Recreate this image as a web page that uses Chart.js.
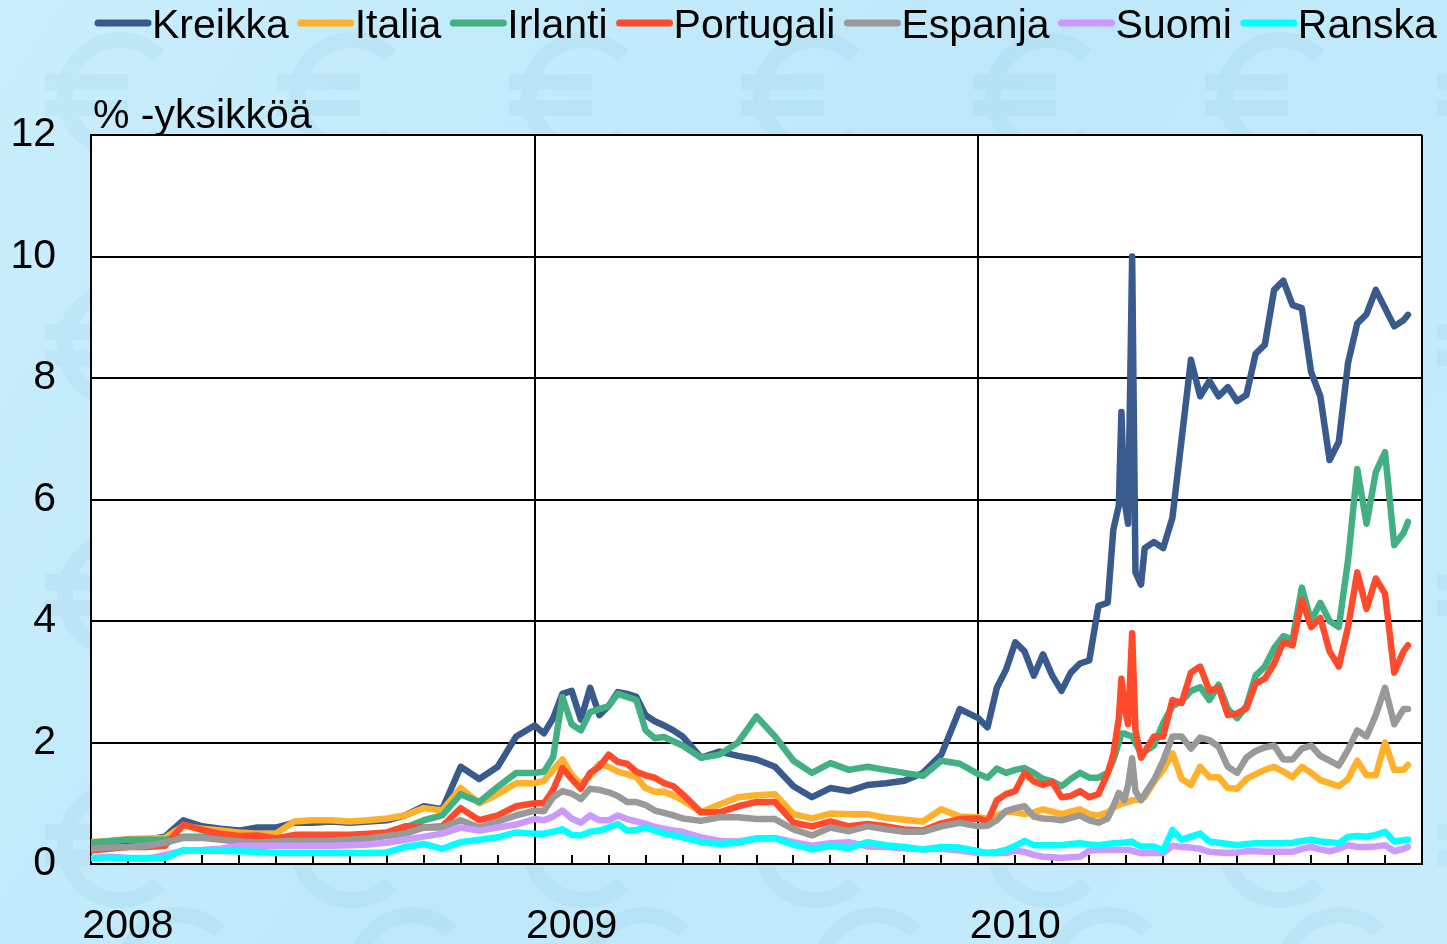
<!DOCTYPE html>
<html>
<head>
<meta charset="utf-8">
<title>Valtionlainojen korkoerot Saksaan</title>
<script src="https://cdn.jsdelivr.net/npm/chart.js@4"></script>
<style>
    html, body { margin: 0; padding: 0; background: #c4ebfb; }
    #wrap { width: 1447px; height: 944px; }
</style>
</head>
<body>
<div id="wrap"><canvas id="spreadChart" width="1447" height="944"></canvas></div>
<script>
// x = months since 1.1.2008
const months = [
    0, 0.5, 1, 1.5, 2, 2.5, 3, 3.5, 4, 4.5, 5, 5.5, 6, 6.5, 7, 7.5, 8, 8.5, 9, 9.5, 10, 10.5, 11, 11.5,
    12, 12.25, 12.5, 12.75, 13, 13.25, 13.5, 13.75, 14, 14.25, 14.5, 14.75, 15, 15.25, 15.5, 15.75,
    16, 16.5, 17, 17.5, 18, 18.5, 19, 19.5, 20, 20.5, 21, 21.5, 22, 22.5, 23, 23.5,
    24, 24.25, 24.5, 24.75, 25, 25.25, 25.5, 25.75, 26, 26.25, 26.5, 26.75, 27, 27.25, 27.5,
    27.65, 27.8, 27.87, 27.95, 28.05, 28.16, 28.25, 28.4,
    28.5, 28.75, 29, 29.25, 29.5, 29.75, 30, 30.25, 30.5, 30.75, 31, 31.25, 31.5, 31.75, 32, 32.25,
    32.5, 32.75, 33, 33.25, 33.5, 33.75, 34, 34.25, 34.5, 34.75, 35, 35.25, 35.5, 35.62
];

const kreikka = [
    0.3, 0.35, 0.38, 0.4, 0.45, 0.72, 0.62, 0.58, 0.55, 0.6, 0.6, 0.68, 0.68, 0.7, 0.68, 0.7, 0.72, 0.8, 0.95, 0.9, 1.6, 1.4, 1.6, 2.1,
    2.28, 2.15, 2.4, 2.8, 2.85, 2.38, 2.9, 2.45, 2.6, 2.83, 2.8, 2.75, 2.45, 2.35, 2.28, 2.2,
    2.1, 1.75, 1.85, 1.78, 1.72, 1.6, 1.28, 1.1, 1.25, 1.2, 1.3, 1.33, 1.37, 1.5, 1.8, 2.55,
    2.4, 2.25, 2.9, 3.2, 3.65, 3.5, 3.1, 3.45, 3.1, 2.85, 3.15, 3.3, 3.35, 4.25, 4.3,
    5.5, 5.9, 7.44, 6.0, 5.6, 10.0, 4.8, 4.6,
    5.2, 5.3, 5.2, 5.7, 7.0, 8.3, 7.7, 7.95, 7.7, 7.85, 7.62, 7.72, 8.4, 8.55, 9.45, 9.6,
    9.2, 9.15, 8.1, 7.7, 6.65, 6.95, 8.25, 8.9, 9.05, 9.45, 9.15, 8.85, 8.95, 9.04
];
const italia = [
    0.36, 0.38, 0.41, 0.42, 0.43, 0.63, 0.58, 0.55, 0.52, 0.5, 0.5, 0.7, 0.72, 0.72, 0.7, 0.72, 0.75, 0.8, 0.92, 0.88, 1.25, 1.0, 1.15, 1.33,
    1.33, 1.37, 1.55, 1.72, 1.47, 1.32, 1.45, 1.65, 1.6, 1.52, 1.48, 1.43, 1.25, 1.19, 1.19, 1.13,
    1.05, 0.85, 0.98, 1.1, 1.13, 1.15, 0.82, 0.75, 0.83, 0.82, 0.82, 0.76, 0.73, 0.7, 0.9, 0.78,
    0.77, 0.74, 0.8, 0.86, 0.85, 0.82, 0.85, 0.9, 0.86, 0.82, 0.86, 0.9, 0.82, 0.8, 0.85,
    0.93, 0.97, 1.0, 1.0, 1.02, 1.05, 1.05, 1.07,
    1.1, 1.35, 1.55, 1.82, 1.4, 1.3, 1.6, 1.43, 1.43, 1.25, 1.24, 1.4, 1.48, 1.55, 1.6, 1.52,
    1.43, 1.6, 1.5, 1.38, 1.33, 1.28, 1.4, 1.7, 1.46, 1.46, 2.0, 1.55, 1.55, 1.63
];
const irlanti = [
    0.35, 0.38, 0.4, 0.4, 0.4, 0.45, 0.45, 0.42, 0.4, 0.38, 0.4, 0.42, 0.42, 0.45, 0.45, 0.48, 0.5, 0.6, 0.72, 0.8, 1.15, 1.02, 1.27, 1.5,
    1.5, 1.52, 1.76, 2.75, 2.3, 2.2, 2.5, 2.55, 2.6, 2.8, 2.75, 2.7, 2.2, 2.07, 2.09, 2.02,
    1.95, 1.75, 1.8, 2.0, 2.43, 2.1, 1.7, 1.5, 1.66, 1.55, 1.6, 1.55, 1.5, 1.45, 1.7, 1.65,
    1.48, 1.42, 1.57, 1.5, 1.55, 1.58, 1.5, 1.4, 1.36, 1.28, 1.4, 1.5, 1.42, 1.42, 1.5,
    1.71, 2.0, 2.15, 2.15, 2.12, 2.1, 2.0, 1.82,
    1.85, 1.95, 2.32, 2.6, 2.68, 2.85, 2.91, 2.7, 2.95, 2.55, 2.4, 2.6, 3.1, 3.25, 3.55, 3.75,
    3.7, 4.55, 4.0, 4.3, 4.0, 3.9, 5.0, 6.5, 5.6, 6.45, 6.78, 5.25, 5.45, 5.63
];
const portugali = [
    0.22, 0.25, 0.28, 0.28, 0.3, 0.65, 0.56, 0.5, 0.46, 0.47, 0.42, 0.48, 0.48, 0.48, 0.48, 0.5, 0.52, 0.62, 0.6, 0.62, 0.92, 0.72, 0.8, 0.95,
    1.0, 1.0, 1.22, 1.58, 1.4, 1.24, 1.5, 1.6, 1.8, 1.68, 1.65, 1.52, 1.46, 1.42, 1.33, 1.28,
    1.15, 0.85, 0.85, 0.95, 1.02, 1.02, 0.68, 0.62, 0.7, 0.62, 0.66, 0.62, 0.57, 0.55, 0.67, 0.74,
    0.75, 0.7, 1.05, 1.15, 1.2, 1.5, 1.36, 1.3, 1.35, 1.1, 1.12, 1.2, 1.1, 1.15, 1.5,
    1.8, 2.4, 3.05, 2.6, 2.3, 3.8, 2.2, 1.75,
    1.85, 2.1, 2.1, 2.7, 2.65, 3.15, 3.25, 2.85, 2.9, 2.45, 2.48, 2.56, 2.97, 3.05, 3.3, 3.65,
    3.6, 4.35, 3.9, 4.05, 3.5, 3.25, 3.9, 4.8, 4.2, 4.7, 4.45, 3.15, 3.5, 3.6
];
const espanja = [
    0.25, 0.27, 0.28, 0.3, 0.35, 0.43, 0.43, 0.4, 0.37, 0.35, 0.37, 0.38, 0.38, 0.38, 0.4, 0.42, 0.46, 0.5, 0.6, 0.6, 0.72, 0.6, 0.7, 0.8,
    0.88, 0.87, 1.1, 1.2, 1.16, 1.07, 1.24, 1.22, 1.18, 1.12, 1.02, 1.02, 0.97, 0.88, 0.84, 0.8,
    0.75, 0.71, 0.77, 0.77, 0.74, 0.74, 0.57, 0.47, 0.6, 0.54, 0.62, 0.57, 0.53, 0.53, 0.62, 0.68,
    0.62, 0.63, 0.72, 0.87, 0.92, 0.95, 0.78, 0.75, 0.74, 0.72, 0.76, 0.8, 0.72, 0.68, 0.75,
    0.95, 1.17, 1.12, 1.05, 1.3, 1.74, 1.2, 1.05,
    1.15, 1.38, 1.7, 2.1, 2.1, 1.9, 2.08, 2.04, 1.93, 1.6, 1.5, 1.75, 1.86, 1.92, 1.95, 1.72,
    1.72, 1.9, 1.95, 1.78, 1.7, 1.62, 1.88, 2.2, 2.1, 2.45, 2.9, 2.3, 2.55, 2.55
];
const suomi = [
    0.1, 0.12, 0.1, 0.08, 0.15, 0.22, 0.23, 0.25, 0.3, 0.3, 0.3, 0.3, 0.3, 0.3, 0.31, 0.32, 0.35, 0.4, 0.45, 0.5, 0.6, 0.55, 0.6, 0.65,
    0.74, 0.72, 0.78, 0.88, 0.75, 0.68, 0.8, 0.72, 0.72, 0.8, 0.74, 0.7, 0.66, 0.61, 0.58, 0.55,
    0.53, 0.44, 0.38, 0.37, 0.42, 0.43, 0.36, 0.3, 0.34, 0.36, 0.29, 0.28, 0.26, 0.24, 0.25, 0.22,
    0.18, 0.18, 0.18, 0.18, 0.22, 0.2, 0.15, 0.12, 0.11, 0.1, 0.11, 0.12, 0.22, 0.23, 0.23,
    0.23, 0.23, 0.23, 0.23, 0.23, 0.22, 0.2, 0.18,
    0.18, 0.18, 0.18, 0.3, 0.28, 0.27, 0.25, 0.2, 0.19, 0.18, 0.19, 0.21, 0.21, 0.2, 0.2, 0.2,
    0.2, 0.25, 0.28, 0.24, 0.21, 0.25, 0.31, 0.28, 0.28, 0.29, 0.31, 0.21, 0.25, 0.28
];
const ranska = [
    0.1, 0.1, 0.1, 0.1, 0.1, 0.23, 0.22, 0.22, 0.21, 0.2, 0.18, 0.18, 0.18, 0.18, 0.18, 0.18, 0.19, 0.28, 0.33, 0.25, 0.36, 0.4, 0.44, 0.52,
    0.5, 0.5, 0.53, 0.57, 0.48, 0.47, 0.53, 0.55, 0.6, 0.66, 0.55, 0.56, 0.6, 0.55, 0.5, 0.47,
    0.44, 0.36, 0.33, 0.35, 0.42, 0.42, 0.32, 0.24, 0.3, 0.26, 0.36, 0.31, 0.28, 0.24, 0.28, 0.27,
    0.21, 0.18, 0.2, 0.23, 0.3, 0.38, 0.31, 0.31, 0.31, 0.31, 0.33, 0.34, 0.32, 0.31, 0.33,
    0.34, 0.34, 0.35, 0.35, 0.36, 0.37, 0.33, 0.29,
    0.29, 0.29, 0.22, 0.56, 0.4, 0.45, 0.5, 0.37, 0.35, 0.33, 0.31, 0.33, 0.34, 0.34, 0.34, 0.34,
    0.35, 0.38, 0.4, 0.37, 0.36, 0.34, 0.45, 0.46, 0.45, 0.48, 0.53, 0.37, 0.39, 0.4
];

const seriesNames = ['Kreikka', 'Italia', 'Irlanti', 'Portugali', 'Espanja', 'Suomi', 'Ranska'];
const seriesValues = [kreikka, italia, irlanti, portugali, espanja, suomi, ranska];
const seriesColors = ['#385a8c', '#ffb12b', '#43b083', '#ff4b2b', '#999999', '#cc99ff', '#00ffff'];

// year labels sit one month into each year, gridlines at year changes
const yearLabels = ['2008', '2009', '2010'];
const yearLabelMonths = [1, 13, 25];
const yearLineMonths = [12, 24, 36];
const unitLabel = '% -yksikköä';

const fontFamily = '"Liberation Sans", Arial, Helvetica, sans-serif';
Chart.defaults.font.family = fontFamily;
Chart.defaults.font.size = 41;
Chart.defaults.color = '#000';

// light blue backdrop with faint euro signs, white plot area
const backdrop = {
    id: 'backdrop',
    beforeDraw(chart) {
        const { ctx, width, height, chartArea: a } = chart;
        ctx.save();
        const g = ctx.createLinearGradient(0, 0, width, height);
        g.addColorStop(0, '#c9eefc');
        g.addColorStop(0.5, '#bee8f9');
        g.addColorStop(1, '#c6ecfb');
        ctx.fillStyle = g;
        ctx.fillRect(0, 0, width, height);

        ctx.strokeStyle = 'rgba(120, 190, 225, 0.12)';
        ctx.lineWidth = 16;
        for (let row = 0; row < 8; row++) {
            for (let col = 0; col < 7; col++) {
                const cx = 120 + col * 232 + (row % 2) * 60;
                const cy = 95 + row * 125;
                ctx.beginPath();
                ctx.arc(cx, cy, 55, -Math.PI / 4, Math.PI / 4, true);
                ctx.moveTo(cx - 75, cy - 13);
                ctx.lineTo(cx + 8, cy - 13);
                ctx.moveTo(cx - 75, cy + 13);
                ctx.lineTo(cx + 8, cy + 13);
                ctx.stroke();
            }
        }

        ctx.fillStyle = '#ffffff';
        ctx.fillRect(a.left, a.top, a.right - a.left, a.bottom - a.top);
        ctx.restore();
    }
};

// legend row at the top and the unit label above the plot
const topTexts = {
    id: 'topTexts',
    afterDraw(chart) {
        const ctx = chart.ctx;
        ctx.save();
        ctx.font = '41px ' + fontFamily;
        ctx.textBaseline = 'alphabetic';
        ctx.textAlign = 'left';
        let x = 95;
        chart.data.datasets.forEach(ds => {
            ctx.strokeStyle = ds.borderColor;
            ctx.lineWidth = 7;
            ctx.lineCap = 'round';
            ctx.beginPath();
            ctx.moveTo(x + 3, 23);
            ctx.lineTo(x + 53, 23);
            ctx.stroke();
            ctx.fillStyle = '#000';
            ctx.fillText(ds.label, x + 57, 38);
            x += 57 + ctx.measureText(ds.label).width + 9;
        });
        ctx.fillText(unitLabel, chart.chartArea.left + 2, 128);
        ctx.restore();
    }
};

const datasets = seriesNames.map((name, i) => ({
    label: name,
    data: months.map((m, j) => ({ x: m, y: seriesValues[i][j] })),
    borderColor: seriesColors[i],
    backgroundColor: seriesColors[i],
    borderWidth: 6.5,
    pointRadius: 0,
    pointHoverRadius: 0,
    borderJoinStyle: 'round',
    borderCapStyle: 'round',
    tension: 0,
    order: seriesNames.length - i // first series at the bottom
}));

new Chart(document.getElementById('spreadChart'), {
    type: 'line',
    data: { datasets: datasets },
    options: {
        responsive: false,
        animation: false,
        devicePixelRatio: 1,
        layout: { padding: { left: 10, right: 25, top: 135, bottom: 0 } },
        plugins: {
            legend: { display: false },
            tooltip: { enabled: false }
        },
        scales: {
            x: {
                type: 'linear',
                min: 0,
                max: 36,
                afterBuildTicks: scale => {
                    scale.ticks = [];
                    for (let m = 0; m <= 36; m++) scale.ticks.push({ value: m });
                },
                afterFit: scale => { scale.height = 80; },
                ticks: {
                    autoSkip: false,
                    maxRotation: 0,
                    minRotation: 0,
                    padding: 25,
                    font: { size: 41, lineHeight: 2.3 },
                    color: '#000',
                    callback: value => {
                        const i = yearLabelMonths.indexOf(value);
                        return i >= 0 ? yearLabels[i] : '';
                    }
                },
                grid: {
                    color: c => (c.tick && yearLineMonths.includes(c.tick.value)) ? '#000' : 'rgba(0,0,0,0)',
                    lineWidth: 2,
                    drawTicks: true,
                    tickLength: -9,
                    tickColor: '#000',
                    tickWidth: 2
                },
                border: { display: true, color: '#000', width: 2 }
            },
            y: {
                min: 0,
                max: 12,
                afterFit: scale => { scale.width = 81; },
                ticks: {
                    stepSize: 2,
                    padding: 35,
                    font: { size: 41 },
                    color: '#000'
                },
                grid: {
                    color: '#000',
                    lineWidth: 2,
                    drawTicks: false
                },
                border: { display: true, color: '#000', width: 2 }
            }
        }
    },
    plugins: [backdrop, topTexts]
});
</script>
</body>
</html>
